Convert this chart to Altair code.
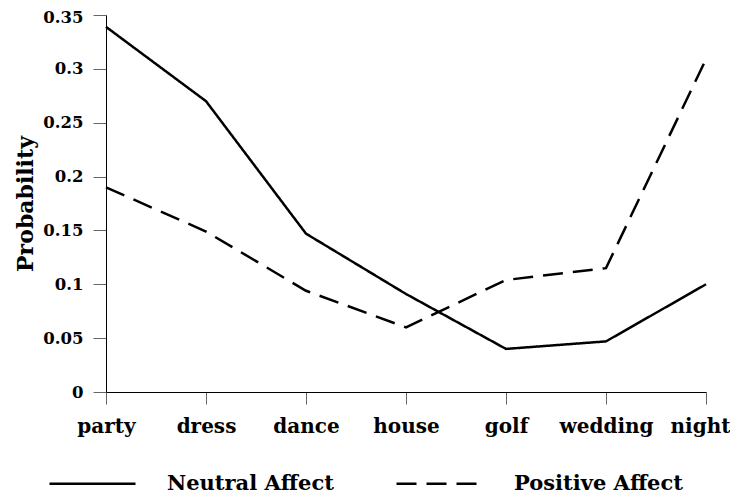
import altair as alt
import pandas as pd

categories = ["party", "dress", "dance", "house", "golf", "wedding", "night"]
neutral = [0.339, 0.270, 0.147, 0.091, 0.040, 0.047, 0.100]
positive = [0.190, 0.149, 0.094, 0.060, 0.104, 0.115, 0.309]
series_names = ["Neutral Affect", "Positive Affect"]
y_ticks = [0, 0.05, 0.1, 0.15, 0.2, 0.25, 0.3, 0.35]

rows = []
for c, n, p in zip(categories, neutral, positive):
    rows.append({"word": c, "prob": n, "series": series_names[0]})
    rows.append({"word": c, "prob": p, "series": series_names[1]})
df = pd.DataFrame(rows)

FONT = "DejaVu Serif"
SYM_W = 86

chart = alt.Chart(df).mark_line(
    strokeWidth=2.5, color="black", strokeCap="butt", strokeJoin="miter"
).encode(
    x=alt.X(
        "word:N", sort=categories,
        scale=alt.Scale(type="point", padding=0),
        axis=alt.Axis(
            title=None, labelAngle=0, labelFont=FONT, labelFontSize=20,
            labelFontWeight="bold", labelColor="black", labelPadding=12,
            labelOffset={"condition": {"test": "datum.value === 'night'", "value": -6}, "value": 0},
            tickSize=12, tickColor="#666", domainColor="black", domainWidth=1,
            grid=False, labelOverlap=False,
        ),
    ),
    y=alt.Y(
        "prob:Q",
        scale=alt.Scale(domain=[0, 0.35], nice=False, zero=True),
        axis=alt.Axis(
            title="Probability", values=y_ticks, format="~g",
            labelFont=FONT, labelFontSize=16.5, labelFontWeight="bold",
            labelColor="black", labelPadding=10, tickSize=13, tickColor="#666",
            labelOffset={"condition": {"test": "datum.value >= 0.349", "value": 2}, "value": 0},
            domainColor="black", domainWidth=1, grid=False,
            titleFont=FONT, titleFontSize=22, titleFontWeight="bold",
            titleColor="black", titlePadding=5,
        ),
    ),
    strokeDash=alt.StrokeDash(
        "series:N",
        scale=alt.Scale(domain=series_names, range=[[1, 0], [20, 10]]),
        legend=alt.Legend(
            title=None, orient="none", legendX=-58, legendY=424,
            direction="horizontal", symbolType="stroke",
            symbolSize=SYM_W * SYM_W, symbolStrokeWidth=2.5,
            symbolStrokeColor="black", labelFont=FONT, labelFontSize=21,
            labelFontWeight="bold", labelColor="black", labelOffset=30,
            labelLimit=400, columnPadding=57,
        ),
    ),
).properties(
    width=600, height=377,
    autosize=alt.AutoSizeParams(type="none"),
    padding={"left": 98, "top": 7, "right": 24, "bottom": 105},
).configure_view(stroke=None)

chart.save("out.html", embed_options={"renderer": "svg", "actions": False})
